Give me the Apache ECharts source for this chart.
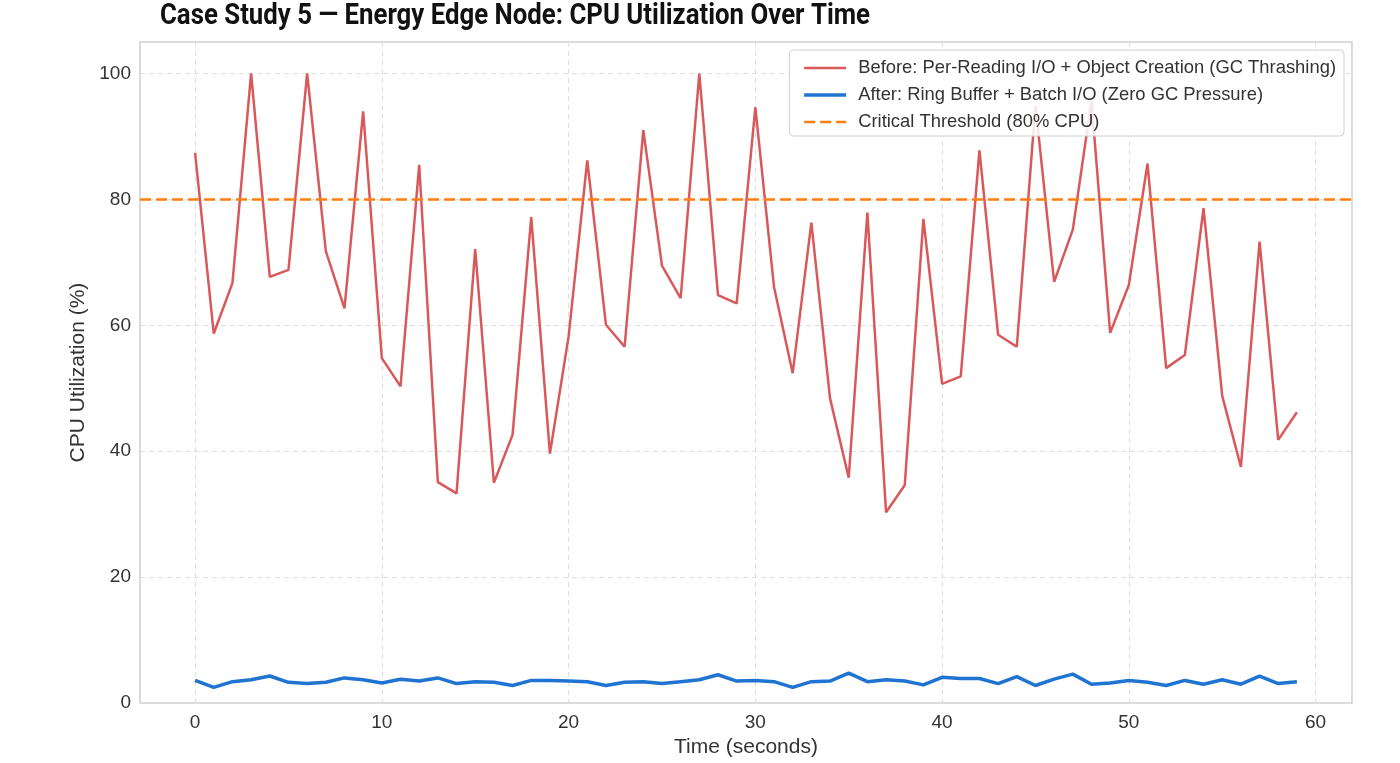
<!DOCTYPE html>
<html>
<head>
<meta charset="utf-8">
<script src="https://cdn.jsdelivr.net/npm/echarts@6/dist/echarts.min.js"></script>
<style>
html, body { margin: 0; padding: 0; background: #fff; }
#chart { width: 1400px; height: 763px; }
</style>
</head>
<body>
<div id="chart"></div>
<script>
// seconds 0..59
var seconds = [];
for (var i = 0; i < 60; i++) seconds.push(i);

var beforeCpu = [87.4, 58.7, 66.7, 100, 67.7, 68.8, 100, 71.8, 62.7, 94.0,
                 54.8, 50.3, 85.5, 35.1, 33.3, 72.1, 35.0, 42.6, 77.2, 39.6,
                 58.2, 86.2, 60.1, 56.6, 91.0, 69.5, 64.3, 100, 64.8, 63.5,
                 94.6, 66.1, 52.4, 76.3, 48.4, 35.8, 77.9, 30.3, 34.6, 76.9,
                 50.7, 51.9, 87.8, 58.5, 56.6, 94.9, 66.9, 75.2, 95.7, 58.8,
                 66.4, 85.7, 53.2, 55.3, 78.6, 48.8, 37.5, 73.3, 41.8, 46.2];

var afterCpu = [3.6, 2.5, 3.4, 3.7, 4.3, 3.3, 3.1, 3.3, 4.0, 3.7,
                3.2, 3.8, 3.5, 4.0, 3.1, 3.4, 3.3, 2.8, 3.6, 3.6,
                3.5, 3.4, 2.8, 3.3, 3.4, 3.1, 3.4, 3.7, 4.5, 3.5,
                3.6, 3.4, 2.5, 3.4, 3.5, 4.75, 3.4, 3.7, 3.5, 2.9,
                4.1, 3.9, 3.9, 3.1, 4.2, 2.8, 3.8, 4.6, 3.0, 3.2,
                3.6, 3.3, 2.8, 3.6, 3.0, 3.7, 3.0, 4.3, 3.1, 3.4];

var threshold = 80;
var xTicks = [0, 10, 20, 30, 40, 50, 60];
var yTicks = [0, 20, 40, 60, 80, 100];

var names = [
    'Before: Per-Reading I/O + Object Creation (GC Thrashing)',
    'After: Ring Buffer + Batch I/O (Zero GC Pressure)',
    'Critical Threshold (80% CPU)'
];
var titleText = 'Case Study 5 — Energy Edge Node: CPU Utilization Over Time';

function pairs(xs, ys) {
    return xs.map(function (x, k) { return [x, ys[k]]; });
}

// no condensed face installed, so squeeze a bold face to the title's width
var titleFont = 'bold 30px Roboto';
var ctx = document.createElement('canvas').getContext('2d');
ctx.font = titleFont;
var titleScale = 710 / ctx.measureText(titleText).width;

var font = 'Liberation Sans';
var myChart = echarts.init(document.getElementById('chart'));
var option = {
    animation: false,
    backgroundColor: '#fff',
    graphic: [{
        type: 'text',
        x: 160,
        y: 16,
        scaleX: titleScale,
        style: {
            text: titleText,
            font: titleFont,
            fill: '#111',
            verticalAlign: 'middle'
        }
    }],
    grid: {
        left: 140, right: 48, top: 42, bottom: 59,
        show: true,
        borderColor: '#cfcfcf',
        borderWidth: 1.5
    },
    legend: {
        orient: 'vertical',
        right: 56,
        top: 50,
        padding: [8, 8, 4, 13],
        backgroundColor: 'rgba(255,255,255,0.85)',
        borderColor: '#d0d0d0',
        borderWidth: 1,
        borderRadius: 4,
        itemWidth: 42,
        itemHeight: 14,
        itemGap: 7,
        itemStyle: { opacity: 0 },
        textStyle: { fontFamily: font, fontSize: 18.4, lineHeight: 20, color: '#333', padding: [0, 0, 0, 7] },
        data: [
            { name: names[0], lineStyle: { width: 2.5 } },
            { name: names[1], lineStyle: { width: 3.5 } },
            { name: names[2], lineStyle: { width: 2.5 } }
        ]
    },
    xAxis: {
        type: 'value',
        min: -2.95,
        max: 61.95,
        name: 'Time (seconds)',
        nameLocation: 'middle',
        nameGap: 33,
        nameTextStyle: { fontFamily: font, fontSize: 21, color: '#333' },
        axisLine: { show: false },
        axisTick: { show: false, customValues: xTicks },
        axisLabel: { customValues: xTicks, fontFamily: font, fontSize: 19, color: '#333', margin: 10 },
        splitLine: { show: true, lineStyle: { color: '#dedede', type: [5, 4], width: 1 } }
    },
    yAxis: {
        type: 'value',
        min: 0,
        max: 105,
        name: 'CPU Utilization (%)',
        nameLocation: 'middle',
        nameGap: 50,
        nameTextStyle: { fontFamily: font, fontSize: 21, color: '#333' },
        axisLine: { show: false },
        axisTick: { show: false, customValues: yTicks },
        axisLabel: { customValues: yTicks, fontFamily: font, fontSize: 19, color: '#333', margin: 9 },
        splitLine: { show: true, lineStyle: { color: '#dedede', type: [5, 4], width: 1 } }
    },
    series: [
        {
            name: names[0],
            type: 'line',
            symbol: 'none',
            data: pairs(seconds, beforeCpu),
            lineStyle: { color: '#d9595b', width: 2.5 },
            itemStyle: { color: '#d9595b' },
            z: 3
        },
        {
            name: names[1],
            type: 'line',
            symbol: 'none',
            data: pairs(seconds, afterCpu),
            lineStyle: { color: '#1f74d2', width: 3.5 },
            itemStyle: { color: '#1f74d2' },
            z: 3
        },
        {
            name: names[2],
            type: 'line',
            symbol: 'none',
            data: [],
            lineStyle: { color: '#ff7f0e', width: 2.5, type: [11, 5] },
            itemStyle: { color: '#ff7f0e' },
            markLine: {
                silent: true,
                symbol: 'none',
                label: { show: false },
                lineStyle: { color: '#ff7f0e', width: 2.5, type: [11, 5] },
                data: [{ yAxis: threshold }]
            },
            z: 2
        }
    ]
};
myChart.setOption(option);
</script>
</body>
</html>
